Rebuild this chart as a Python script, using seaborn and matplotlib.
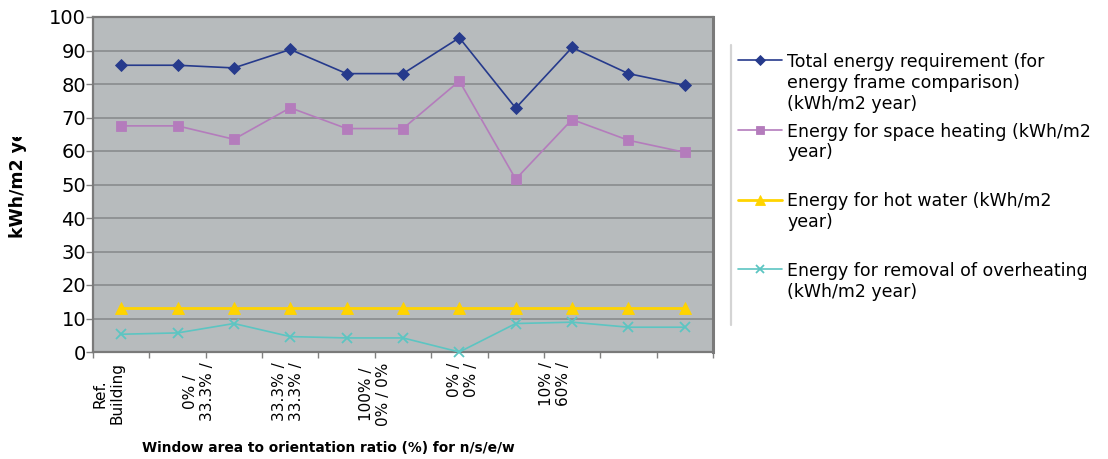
import numpy as np
import pandas as pd
import matplotlib
matplotlib.use("Agg")
import matplotlib.pyplot as plt
import seaborn as sns
from matplotlib.lines import Line2D
from matplotlib.transforms import Bbox, TransformedBbox

# ---------------- data ----------------
categories = [0, 1, 2, 3, 4, 5, 6, 7, 8, 9, 10]
total_energy = [85.6, 85.6, 84.8, 90.3, 83.1, 83.1, 93.8, 72.8, 90.9, 83.1, 79.6]
space_heating = [67.5, 67.5, 63.5, 72.9, 66.7, 66.7, 80.9, 51.6, 69.4, 63.2, 59.6]
hot_water = [13.2, 13.2, 13.2, 13.2, 13.2, 13.2, 13.2, 13.2, 13.2, 13.2, 13.2]
overheating = [5.3, 5.7, 8.5, 4.6, 4.2, 4.2, 0.0, 8.5, 8.9, 7.4, 7.4]

series_labels = [
    "Total energy requirement (for\nenergy frame comparison)\n(kWh/m2 year)",
    "Energy for space heating (kWh/m2\nyear)\n",
    "Energy for hot water (kWh/m2\nyear)\n",
    "Energy for removal of overheating\n(kWh/m2 year)",
]
tick_labels = ["Ref.\nBuilding", "0% /\n33.3% /", "33.3% /\n33.3% /",
               "100% /\n0% / 0%", "0% /\n0% /", "10% /\n60% /"]
y_ticks = [0, 10, 20, 30, 40, 50, 60, 70, 80, 90, 100]
x_title = "Window area to orientation ratio (%) for n/s/e/w"
y_title = "kWh/m2 year"

# ---------------- style ----------------
sns.set_style("white")
plt.rcParams["font.family"] = ["DejaVu Sans"]
plt.rcParams["text.color"] = "black"
plt.rcParams["axes.labelcolor"] = "black"
plt.rcParams["xtick.labelcolor"] = "black"
plt.rcParams["ytick.labelcolor"] = "black"

colors = ["#263A8C", "#B47CBC", "#FFD400", "#5CC5C2"]
markers = ["D", "s", "^", "x"]
msizes = [6.5, 7, 8, 7.5]
lws = [1.2, 1.2, 2.0, 1.2]

W, H = 1108, 459
fig = plt.figure(figsize=(W / 100, H / 100), dpi=100)
ax = fig.add_axes([93 / W, 1 - 352 / H, (713 - 93) / W, (352 - 17) / H])
ax.set_facecolor("#B7BBBD")

all_series = [total_energy, space_heating, hot_water, overheating]
for vals, lab, c, m, ms, lw in zip(all_series, series_labels, colors, markers, msizes, lws):
    df = pd.DataFrame({"x": categories, "y": vals})
    sns.lineplot(data=df, x="x", y="y", ax=ax, color=c, marker=m, markersize=ms,
                 linewidth=lw, markeredgecolor=c, markeredgewidth=1.3 if m == "x" else 0.6,
                 label=lab, legend=False, clip_on=False, zorder=3)

ax.set_xlim(-0.5, 10.5)
ax.set_ylim(0, 100)
ax.set_yticks(y_ticks)
ax.set_yticklabels([str(v) for v in y_ticks], fontsize=14, color="black")
ax.yaxis.grid(True, color="#85878A", linewidth=1.1)
ax.set_axisbelow(True)

# category boundary ticks
ax.xaxis.remove_overlapping_locs = False
ax.set_xticks(np.arange(-0.5, 11, 1.0))
ax.set_xticklabels([])
ax.tick_params(axis="x", which="major", direction="out", length=4, width=1,
               color="#808080", bottom=True)
label_pos = [-0.22, 1.38, 2.96, 4.50, 6.06, 7.70]
ax.set_xticks(label_pos, minor=True)
ax.set_xticklabels(tick_labels, minor=True, rotation=90, fontsize=11, color="black",
                   va="top", ha="center", multialignment="center")
ax.tick_params(axis="x", which="minor", length=0, pad=7.5)
ax.tick_params(axis="y", direction="out", length=5, width=1, color="#808080",
               pad=0, left=True)

for side, lw in [("left", 1.6), ("top", 1.6), ("right", 2.2), ("bottom", 1.6)]:
    ax.spines[side].set_visible(True)
    ax.spines[side].set_color("#7A7A7A")
    ax.spines[side].set_linewidth(lw)

ax.set_xlabel(x_title, fontsize=9.9, fontweight="bold", color="black")
ax.xaxis.set_label_coords((328 - 93) / (713 - 93), -(448 - 352) / (352 - 17), transform=ax.transAxes)
ax.xaxis.label.set_va("center")
ax.set_ylabel("")

yl = fig.text(18 / W, 1 - 238 / H, y_title, rotation=90, ha="center", va="bottom",
              fontsize=12.5, fontweight="bold", color="black")
yl.set_clip_on(True)
yl.set_clip_box(TransformedBbox(Bbox([[0, 0], [60 / W, 1 - 137 / H]]), fig.transFigure))

# legend
handles, labels = ax.get_legend_handles_labels()
leg = fig.legend(handles, labels, loc="upper left",
                 bbox_to_anchor=(738 / W, 1 - 53 / H), frameon=False,
                 fontsize=12.5, handlelength=2.55, handletextpad=0.3,
                 labelspacing=0.58, borderpad=0, borderaxespad=0,
                 handleheight=1.15, labelcolor="black")
for col in leg._legend_handle_box.get_children():
    for item in col.get_children():
        item.align = "top"
for h, ms in zip(leg.legend_handles, [5, 6, 7, 6]):
    h.set_markersize(ms)

fig.add_artist(Line2D([731 / W, 731 / W], [1 - 45 / H, 1 - 325 / H],
                      transform=fig.transFigure, color="#D4D4D4", linewidth=1.6))

fig.savefig("out.png", dpi=100, facecolor="white")
